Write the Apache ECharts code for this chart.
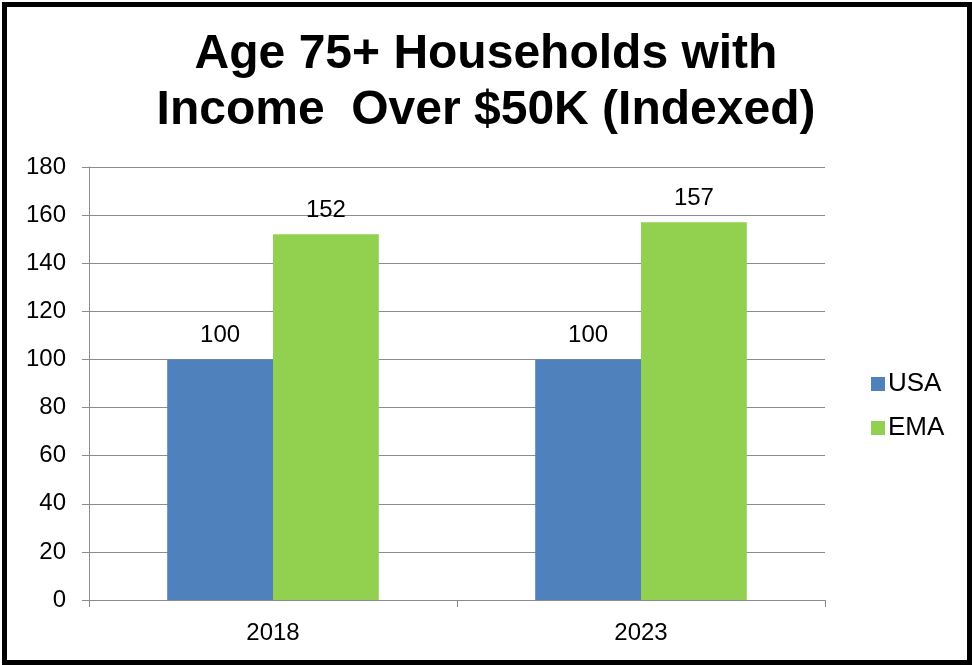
<!DOCTYPE html>
<html>
<head>
<meta charset="utf-8">
<script src="https://cdn.jsdelivr.net/npm/echarts@6/dist/echarts.min.js"></script>
<style>
  html, body { margin: 0; padding: 0; background: #ffffff; }
  #chart { width: 972px; height: 665px; }
</style>
</head>
<body>
<div id="chart"></div>
<script>
// Chart content
const titleLines = ['Age 75+ Households with', 'Income  Over $50K (Indexed)'];
const categories = ['2018', '2023'];
const seriesNames = ['USA', 'EMA'];
const usaValues = [100, 100];
const emaValues = [152, 157];
const yTicks = [0, 20, 40, 60, 80, 100, 120, 140, 160, 180];

const FONT = '"Liberation Sans", Arial, sans-serif';
const GRID_COLOR = '#8c8c8c';
const TEXT_SIZE = 24;

const chart = echarts.init(document.getElementById('chart'), null, { renderer: 'canvas' });

const barLabel = {
  show: true,
  position: 'top',
  distance: 12,
  color: '#000000',
  fontFamily: FONT,
  fontSize: TEXT_SIZE
};

chart.setOption({
  backgroundColor: '#ffffff',
  animation: false,
  title: {
    text: titleLines.join('\n'),
    left: 'center',
    top: 22,
    textStyle: {
      fontFamily: FONT,
      fontWeight: 'bold',
      fontSize: 48,
      lineHeight: 56,
      color: '#000000'
    }
  },
  legend: {
    orient: 'vertical',
    left: 866,
    top: 366,
    itemWidth: 14,
    itemHeight: 14,
    itemGap: 18,
    icon: 'rect',
    textStyle: { fontFamily: FONT, fontSize: 26, color: '#000000', padding: [0, 0, 0, -2] },
    data: seriesNames
  },
  grid: { left: 89, right: 147, top: 167, bottom: 65, containLabel: false },
  xAxis: {
    type: 'category',
    data: categories,
    axisLine: { lineStyle: { color: GRID_COLOR, width: 1 } },
    axisTick: { show: true, length: 7, lineStyle: { color: GRID_COLOR } },
    axisLabel: { fontFamily: FONT, fontSize: TEXT_SIZE, color: '#000000', margin: 21 }
  },
  yAxis: {
    type: 'value',
    min: yTicks[0],
    max: yTicks[yTicks.length - 1],
    interval: yTicks[1] - yTicks[0],
    axisLine: { show: true, lineStyle: { color: GRID_COLOR, width: 1 } },
    axisTick: { show: true, length: 7, lineStyle: { color: GRID_COLOR } },
    axisLabel: { fontFamily: FONT, fontSize: TEXT_SIZE, color: '#000000', margin: 23 },
    splitLine: { show: true, lineStyle: { color: GRID_COLOR, width: 1 } }
  },
  series: [
    {
      name: seriesNames[0],
      type: 'bar',
      data: usaValues,
      barGap: '0%',
      barCategoryGap: '42.5%',
      itemStyle: { color: '#4f81bd' },
      label: barLabel
    },
    {
      name: seriesNames[1],
      type: 'bar',
      data: emaValues,
      barGap: '0%',
      barCategoryGap: '42.5%',
      itemStyle: { color: '#92d050' },
      label: barLabel
    }
  ],
  graphic: [
    {
      type: 'rect',
      silent: true,
      z: 100,
      shape: { x: 4.5, y: 4.5, width: 965, height: 658 },
      style: { fill: 'none', stroke: '#000000', lineWidth: 5 }
    }
  ]
});
</script>
</body>
</html>
